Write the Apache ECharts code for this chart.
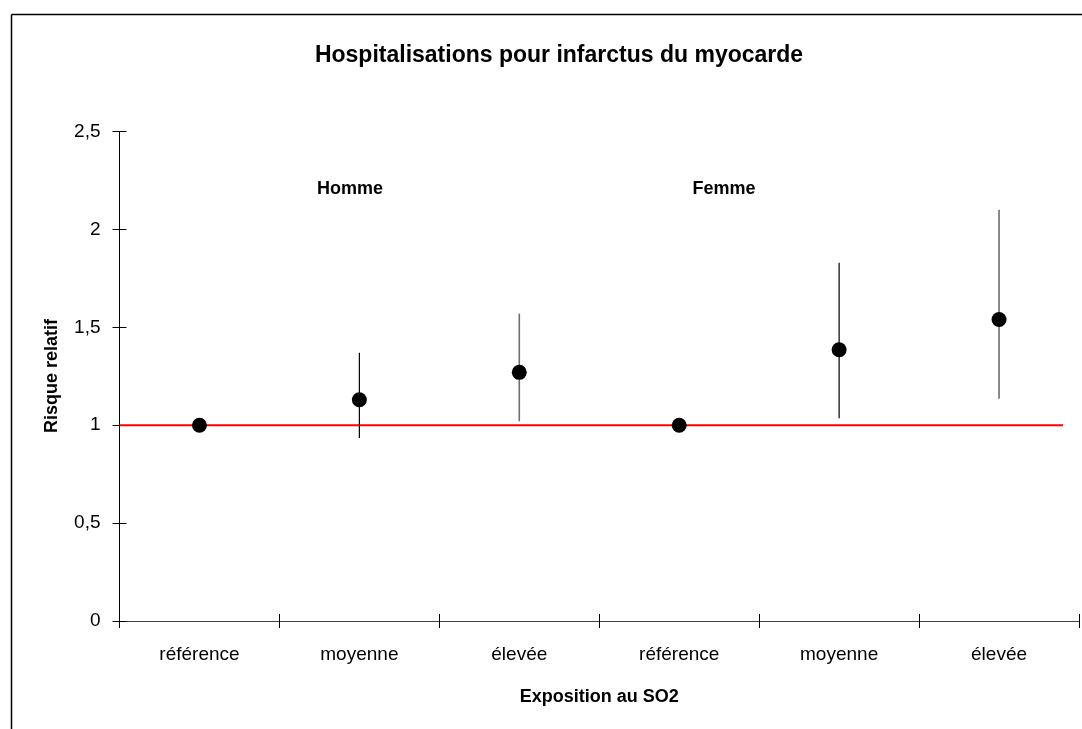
<!DOCTYPE html>
<html>
<head>
<meta charset="utf-8">
<script src="https://cdn.jsdelivr.net/npm/echarts@6/dist/echarts.min.js"></script>
<style>
html,body{margin:0;padding:0;background:#fff;}
#c{width:1082px;height:729px;}
</style>
</head>
<body>
<div id="c"></div>
<script>
const categories = ['référence', 'moyenne', 'élevée', 'référence', 'moyenne', 'élevée'];
const riskValues = [1.0, 1.13, 1.27, 1.0, 1.385, 1.54];
const lowerCI = [null, 0.935, 1.02, null, 1.035, 1.135];
const upperCI = [null, 1.37, 1.57, null, 1.83, 2.10];
const yTicks = [0, 0.5, 1, 1.5, 2, 2.5];
const refLineX = [0, 5.9];
const refLineY = [1, 1];
const groupLabels = ['Homme', 'Femme'];

const FONT = '"Liberation Sans Narrow", "Arial Narrow", "Liberation Sans", Arial, sans-serif';
const chart = echarts.init(document.getElementById('c'), null, {renderer: 'canvas'});

const fmt = v => String(v).replace('.', ',');
const errData = categories.map((c, i) => [i, lowerCI[i], upperCI[i]]).filter(d => d[1] != null);

const option = {
  backgroundColor: '#fff',
  animation: false,
  title: [
    {text: 'Hospitalisations pour infarctus du myocarde', left: 554, top: 39, textAlign: 'center',
     textStyle: {fontFamily: FONT, fontWeight: 'bold', fontSize: 23, color: '#000'}},
    {text: groupLabels[0], left: 345, top: 175, textAlign: 'center',
     textStyle: {fontFamily: FONT, fontWeight: 'bold', fontSize: 18, color: '#000'}},
    {text: groupLabels[1], left: 719, top: 175, textAlign: 'center',
     textStyle: {fontFamily: FONT, fontWeight: 'bold', fontSize: 18, color: '#000'}}
  ],
  graphic: [
    {type: 'line', shape: {x1: 11.5, y1: 14.5, x2: 11.5, y2: 740}, style: {stroke: '#000', lineWidth: 1.5}},
    {type: 'line', shape: {x1: 11.5, y1: 14.5, x2: 1090, y2: 14.5}, style: {stroke: '#000', lineWidth: 1.5}},
    {type: 'text', x: 52, y: 376, rotation: Math.PI / 2,
     style: {text: 'Risque relatif', font: 'bold 18px ' + FONT, fill: '#000', align: 'center', verticalAlign: 'middle', textAlign: 'center', textVerticalAlign: 'middle'}}
  ],
  grid: {left: 119.5, right: 3, top: 131.5, bottom: 108, containLabel: false},
  xAxis: [
    {type: 'category', data: categories, boundaryGap: true,
     name: 'Exposition au SO2', nameLocation: 'middle', nameGap: 67,
     nameTextStyle: {fontFamily: FONT, fontWeight: 'bold', fontSize: 18, color: '#000'},
     axisLine: {lineStyle: {color: '#444', width: 1}},
     axisTick: {show: true, length: 7, lineStyle: {color: '#000'}, alignWithLabel: false},
     axisLabel: {fontFamily: FONT, fontSize: 19, color: '#000', margin: 24, interval: 0},
     splitLine: {show: false}},
    {type: 'value', min: 0, max: 6, show: false},
    {type: 'category', data: categories, position: 'bottom', boundaryGap: true,
     axisLine: {show: false}, axisLabel: {show: false},
     axisTick: {show: true, inside: true, length: 7, lineStyle: {color: '#000'}}}
  ],
  yAxis: [
    {type: 'value', min: 0, max: 2.5, interval: 0.5,
     axisLine: {show: true, lineStyle: {color: '#000', width: 1}},
     axisTick: {show: true, length: 7, lineStyle: {color: '#000'}},
     axisLabel: {fontFamily: FONT, fontSize: 19, color: '#000', margin: 19,
                 formatter: v => yTicks.includes(v) ? fmt(v) : ''},
     splitLine: {show: false}},
    {type: 'value', min: 0, max: 2.5, interval: 0.5, position: 'left',
     axisLine: {show: false}, axisLabel: {show: false}, splitLine: {show: false},
     axisTick: {show: true, inside: true, length: 7, lineStyle: {color: '#000'}}}
  ],
  series: [
    {type: 'line', xAxisIndex: 1, yAxisIndex: 0, data: refLineX.map((x, i) => [x, refLineY[i]]),
     symbol: 'none', lineStyle: {color: '#ff0000', width: 2}, z: 2, silent: true},
    {type: 'custom', xAxisIndex: 0, yAxisIndex: 0, data: errData, z: 3,
     renderItem: (params, api) => {
       const idx = api.value(0);
       const p1 = api.coord([idx, api.value(1)]);
       const p2 = api.coord([idx, api.value(2)]);
       const grey = idx % 3 === 2;
       return {type: 'line', shape: {x1: p1[0], y1: p1[1], x2: p2[0], y2: p2[1]},
               style: {stroke: grey ? '#6e6e6e' : '#000', lineWidth: grey ? 1.6 : 1.2}};
     }},
    {type: 'scatter', xAxisIndex: 0, yAxisIndex: 0, data: riskValues, symbol: 'circle', symbolSize: 15,
     itemStyle: {color: '#000', opacity: 1}, z: 5}
  ]
};
chart.setOption(option);
</script>
</body>
</html>
